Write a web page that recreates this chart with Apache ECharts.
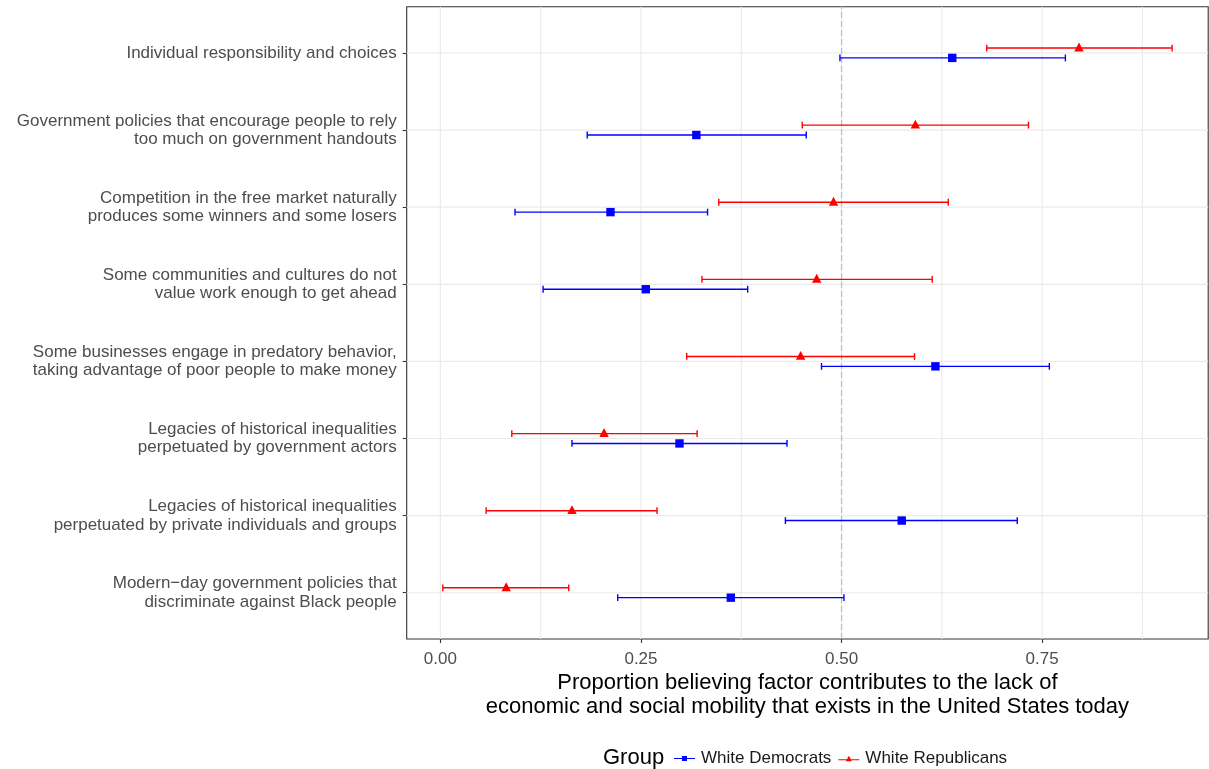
<!DOCTYPE html>
<html>
<head>
<meta charset="utf-8">
<script src="https://cdn.jsdelivr.net/npm/echarts@6/dist/echarts.min.js"></script>
<style>
  html, body { margin: 0; padding: 0; background: #ffffff; }
  #chart { width: 1209px; height: 769px; }
</style>
</head>
<body>
<div id="chart"></div>
<script>
// Factors, listed top to bottom as they appear on the y axis
const factors = [
  'Individual responsibility and choices',
  'Government policies that encourage people to rely\ntoo much on government handouts',
  'Competition in the free market naturally\nproduces some winners and some losers',
  'Some communities and cultures do not\nvalue work enough to get ahead',
  'Some businesses engage in predatory behavior,\ntaking advantage of poor people to make money',
  'Legacies of historical inequalities\nperpetuated by government actors',
  'Legacies of historical inequalities\nperpetuated by private individuals and groups',
  'Modern\u2212day government policies that\ndiscriminate against Black people'
];

// White Democrats: estimate with lower / upper interval bounds
const demMean = [0.638, 0.319, 0.212, 0.256, 0.617, 0.298, 0.575, 0.362];
const demLow  = [0.498, 0.183, 0.093, 0.128, 0.475, 0.164, 0.430, 0.221];
const demHigh = [0.779, 0.456, 0.333, 0.383, 0.759, 0.432, 0.719, 0.503];

// White Republicans: estimate with lower / upper interval bounds
const repMean = [0.796, 0.592, 0.490, 0.469, 0.449, 0.204, 0.164, 0.082];
const repLow  = [0.681, 0.451, 0.347, 0.326, 0.307, 0.089, 0.057, 0.003];
const repHigh = [0.912, 0.733, 0.633, 0.613, 0.591, 0.320, 0.270, 0.160];

// Axis ticks and background grid positions
const xTicks = [0, 0.25, 0.5, 0.75];
const xGridLines = [0, 0.125, 0.25, 0.375, 0.5, 0.625, 0.75, 0.875];
const referenceLine = [0.5];

const nCat = factors.length;
const catPos = factors.map((_, i) => nCat - i);   // top row sits highest

const X_MIN = -0.042, X_MAX = 0.957;
const Y_MIN = 0.4, Y_MAX = 8.6;

const FONT = '"Liberation Sans", Arial, Helvetica, sans-serif';
const BLUE = '#0000ff';
const RED = '#ff0000';
const DODGE = 0.064;   // vertical offset of each group within a row, in row units

function buildRows(mean, low, high) {
  return factors.map((_, i) => [catPos[i], low[i], mean[i], high[i]]);
}

function errorBarRenderer(shift, shape, color) {
  return function (params, api) {
    const y = api.value(0) + shift;
    const lo = api.coord([api.value(1), y]);
    const mid = api.coord([api.value(2), y]);
    const hi = api.coord([api.value(3), y]);
    const cap = 3.4;
    const lineStyle = { stroke: color, lineWidth: 1.4 };
    const children = [
      { type: 'line', shape: { x1: lo[0], y1: lo[1], x2: hi[0], y2: hi[1] }, style: lineStyle },
      { type: 'line', shape: { x1: lo[0], y1: lo[1] - cap, x2: lo[0], y2: lo[1] + cap }, style: lineStyle },
      { type: 'line', shape: { x1: hi[0], y1: hi[1] - cap, x2: hi[0], y2: hi[1] + cap }, style: lineStyle }
    ];
    if (shape === 'square') {
      children.push({ type: 'rect', shape: { x: mid[0] - 4.2, y: mid[1] - 4.2, width: 8.4, height: 8.4 }, style: { fill: color } });
    } else {
      children.push({ type: 'polygon', shape: { points: [[mid[0], mid[1] - 5.5], [mid[0] + 4.7, mid[1] + 3.4], [mid[0] - 4.7, mid[1] + 3.4]] }, style: { fill: color } });
    }
    return { type: 'group', children: children };
  };
}

function gridLine(a, b, stroke, dash) {
  const style = { stroke: stroke, lineWidth: 1.2 };
  if (dash) style.lineDash = dash;
  return { type: 'line', shape: { x1: a[0], y1: a[1], x2: b[0], y2: b[1] }, style: style };
}

const chart = echarts.init(document.getElementById('chart'), null, { renderer: 'canvas' });

chart.setOption({
  animation: false,
  backgroundColor: '#ffffff',
  textStyle: { fontFamily: FONT },
  grid: {
    left: 406.7, top: 6.7, right: 0.8, bottom: 130,
    show: true, backgroundColor: '#ffffff', borderColor: '#333333', borderWidth: 1.1,
    containLabel: false
  },
  xAxis: {
    type: 'value',
    min: X_MIN, max: X_MAX,
    axisLine: { show: false, onZero: false },
    splitLine: { show: false },
    axisTick: { show: true, length: 4, customValues: xTicks, lineStyle: { color: '#333333', width: 1.1 } },
    axisLabel: {
      customValues: xTicks, formatter: v => v.toFixed(2),
      color: '#4d4d4d', fontSize: 17, fontFamily: FONT, margin: 12
    },
    name: 'Proportion believing factor contributes to the lack of\neconomic and social mobility that exists in the United States today',
    nameLocation: 'middle',
    nameGap: 32,
    nameMoveOverlap: false,
    nameTextStyle: { color: '#000000', fontSize: 22, lineHeight: 24, fontFamily: FONT, align: 'center', verticalAlign: 'top' }
  },
  yAxis: {
    type: 'value',
    min: Y_MIN, max: Y_MAX,
    axisLine: { show: false, onZero: false },
    splitLine: { show: false },
    axisTick: { show: true, length: 4, customValues: catPos, lineStyle: { color: '#333333', width: 1.1 } },
    axisLabel: {
      customValues: catPos,
      formatter: v => factors[nCat - Math.round(v)],
      color: '#4d4d4d', fontSize: 17, lineHeight: 18.5, fontFamily: FONT, margin: 10, align: 'right'
    }
  },
  legend: {
    left: 674, top: 750, padding: 0,
    itemWidth: 21, itemHeight: 6, itemGap: 7,
    textStyle: { color: '#1a1a1a', fontSize: 17, fontFamily: FONT, padding: [0, 0, 0, 1] },
    data: [
      { name: 'White Democrats', icon: 'path://M0,2.5H21V3.5H0Z M8,0.5H13V5.5H8Z' },
      { name: 'White Republicans', icon: 'path://M0,3.5H21V4.5H0Z M10.5,0L13.5,5.5H7.5Z' }
    ]
  },
  graphic: [{
    type: 'text', x: 603, y: 758,
    style: { text: 'Group', fill: '#000000', font: '22px ' + FONT, verticalAlign: 'middle' }
  }],
  series: [
    {
      // vertical background grid
      type: 'custom', name: 'xgrid', silent: true, z: 1,
      data: xGridLines.map(v => [v]),
      encode: { x: 0 },
      renderItem: (params, api) => gridLine(api.coord([api.value(0), Y_MIN]), api.coord([api.value(0), Y_MAX]), '#ebebeb')
    },
    {
      // horizontal background grid, one line per factor
      type: 'custom', name: 'ygrid', silent: true, z: 1,
      data: catPos.map(v => [v]),
      encode: { y: 0 },
      renderItem: (params, api) => gridLine(api.coord([X_MIN, api.value(0)]), api.coord([X_MAX, api.value(0)]), '#ebebeb')
    },
    {
      // dashed reference at one half
      type: 'custom', name: 'ref', silent: true, z: 2,
      data: referenceLine.map(v => [v]),
      encode: { x: 0 },
      renderItem: (params, api) => gridLine(api.coord([api.value(0), Y_MIN]), api.coord([api.value(0), Y_MAX]), '#bdbdbd', [6, 3])
    },
    {
      type: 'custom', name: 'White Democrats', z: 3,
      itemStyle: { color: BLUE },
      data: buildRows(demMean, demLow, demHigh),
      encode: { y: 0, x: [1, 2, 3] },
      renderItem: errorBarRenderer(-DODGE, 'square', BLUE)
    },
    {
      type: 'custom', name: 'White Republicans', z: 3,
      itemStyle: { color: RED },
      data: buildRows(repMean, repLow, repHigh),
      encode: { y: 0, x: [1, 2, 3] },
      renderItem: errorBarRenderer(DODGE, 'triangle', RED)
    }
  ]
});
</script>
</body>
</html>
